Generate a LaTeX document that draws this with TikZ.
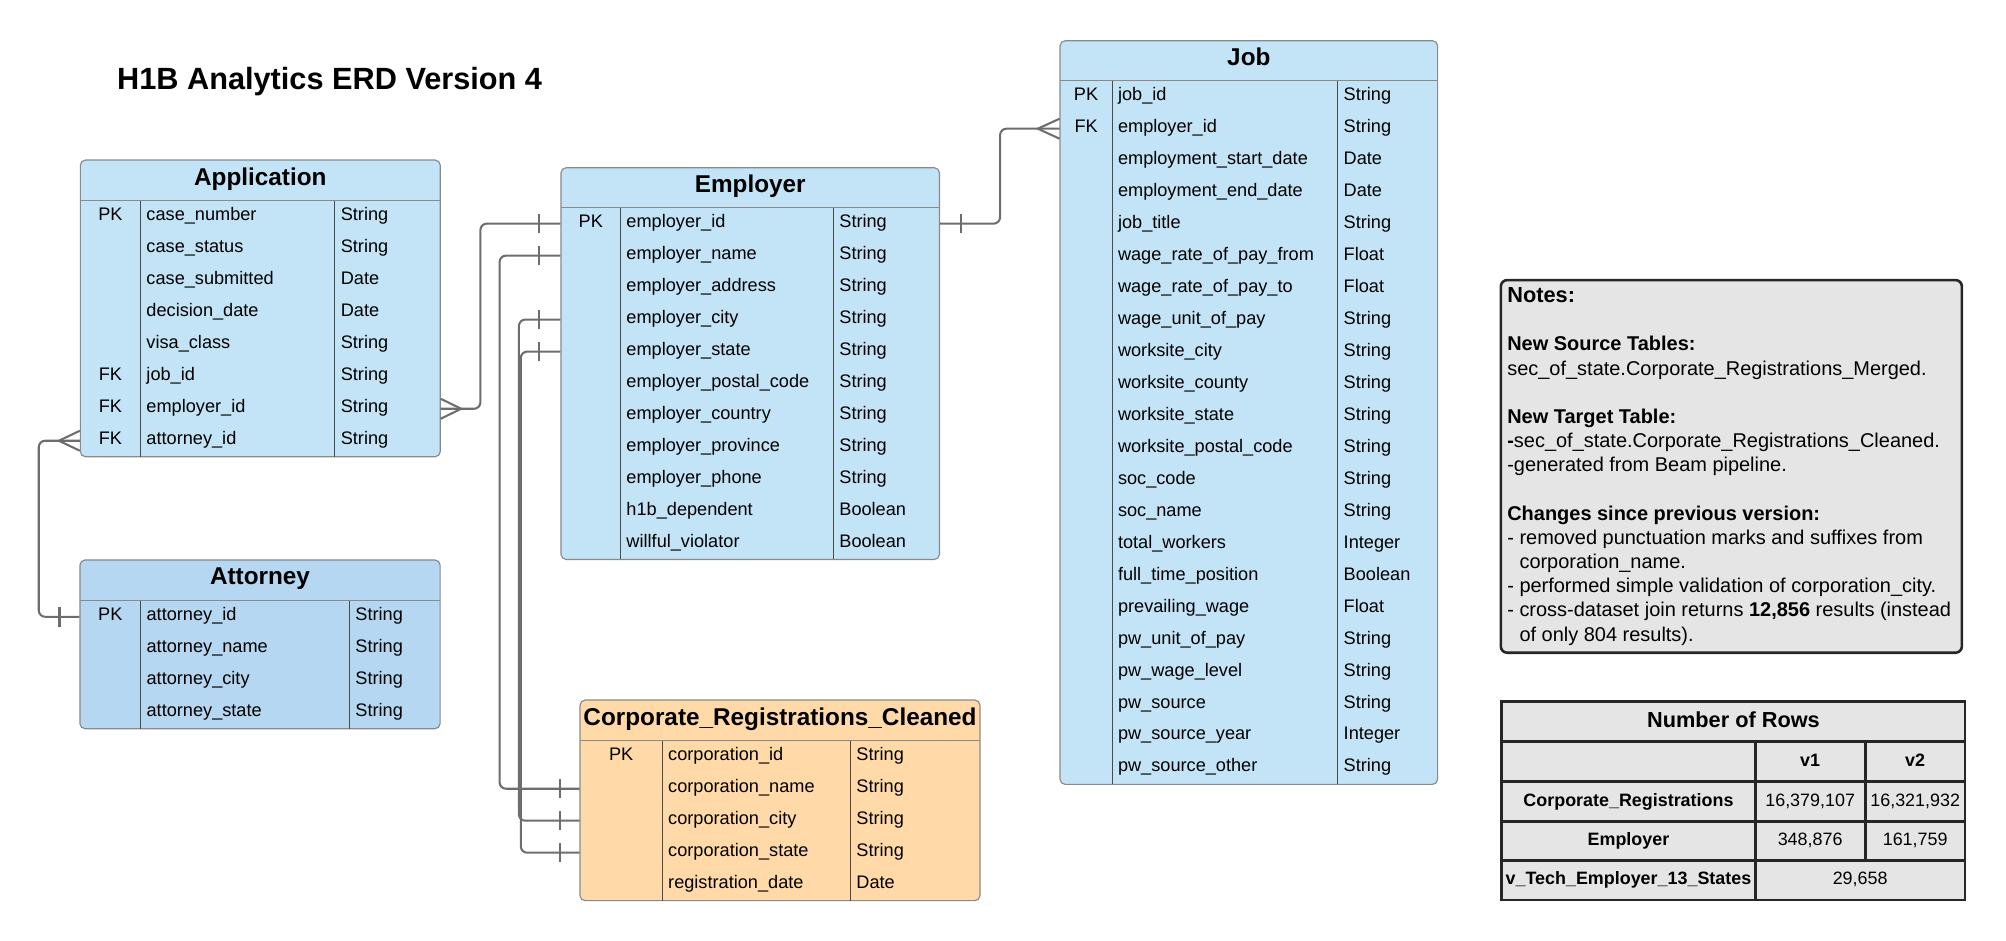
\documentclass[tikz,border=0pt]{standalone}
\usepackage{fontspec}
\setmainfont{Liberation Sans}
\usetikzlibrary{calc}
\definecolor{erdblue}{HTML}{C3E4F7}
\definecolor{erdattblue}{HTML}{B5D7F1}
\definecolor{erdorange}{HTML}{FFDAA8}
\definecolor{notegray}{HTML}{E5E5E5}
\definecolor{relgray}{HTML}{6D6D6D}
\definecolor{framegray}{HTML}{8A8A8A}
\definecolor{divgray}{HTML}{4A4A4A}
\tikzset{
  tablebox/.style={draw=framegray, line width=0.45pt, rounded corners=2pt},
  headline/.style={draw=framegray, line width=0.45pt},
  colline/.style={draw=divgray, line width=0.45pt},
  tabletitle/.style={anchor=base, inner sep=0pt, font=\fontsize{9.5}{11}\selectfont\bfseries},
  rowbox/.style={rectangle, inner sep=0pt, minimum height=12.5pt},
  keytext/.style={anchor=base, inner sep=0pt, font=\fontsize{7.1}{8.5}\selectfont},
  fieldtext/.style={anchor=base west, inner sep=0pt, font=\fontsize{7.1}{8.5}\selectfont},
  rel/.style={draw=relgray, line width=0.8pt, rounded corners=2.5pt},
  relend/.style={draw=relgray, line width=0.8pt},
  notebox/.style={draw=black!85, line width=1pt, fill=notegray, rounded corners=2.5pt},
  notetext/.style={anchor=north west, inner sep=0pt, align=left, font=\fontsize{7.8}{9.45}\selectfont},
  countgrid/.style={draw=black!85, line width=1.1pt},
  counttext/.style={anchor=base, inner sep=0pt, font=\fontsize{7}{8}\selectfont},
}
\def\erdtable(#1:#2:#3)#4{%
  \draw[tablebox, fill=#3] (\erdl,\erdtop) rectangle (\erdr,\erdh+#2*25);
  \draw[headline] (\erdl,\erdh) -- (\erdr,\erdh);
  \draw[colline] (\erdk,\erdh) -- (\erdk,\erdh+#2*25);
  \draw[colline] (\erdd,\erdh) -- (\erdd,\erdh+#2*25);
  \node[tabletitle] (#1) at ({(\erdl+\erdr)/2},\erdtop+19.5) {#4};
}
\def\erdrow(#1:#2)(#3:#4:#5){%
  \node[rowbox, minimum width={(\erdr-\erdl)*0.5pt}] (#1) at ({(\erdl+\erdr)/2},\erdh+25*#2-12.5) {};
  \node[keytext] (#1-key) at ({(\erdl+\erdk)/2},\erdh+25*#2-9.7) {#3};
  \node[fieldtext] (#1-name) at (\erdk+4.2,\erdh+25*#2-9.7) {#4};
  \node[fieldtext] (#1-type) at (\erdd+4.3,\erdh+25*#2-9.7) {#5};
}

\begin{document}
\begin{tikzpicture}[x=0.5pt,y=-0.5pt]
  \useasboundingbox (0,0) rectangle (1568,734.8);

  \node[anchor=base west, inner sep=0pt, font=\fontsize{12}{14}\selectfont\bfseries] (title) at (91.2,69.8) {H1B Analytics ERD Version 4};

  %%%%% Application %%%%%
  \def\erdl{62.8}\def\erdk{109.9}\def\erdd{261.7}\def\erdr{344.1}
  \def\erdtop{125.1}\def\erdh{157}
  \erdtable(application:8:erdblue){Application}
  \erdrow(app1:1)(PK:case\_number:String)
  \erdrow(app2:2)(:case\_status:String)
  \erdrow(app3:3)(:case\_submitted:Date)
  \erdrow(app4:4)(:decision\_date:Date)
  \erdrow(app5:5)(:visa\_class:String)
  \erdrow(app6:6)(FK:job\_id:String)
  \erdrow(app7:7)(FK:employer\_id:String)
  \erdrow(app8:8)(FK:attorney\_id:String)

  %%%%% Attorney %%%%%
  \def\erdl{62.5}\def\erdk{110}\def\erdd{273.1}\def\erdr{344}
  \def\erdtop{437.7}\def\erdh{469.6}
  \erdtable(attorney:4:erdattblue){Attorney}
  \erdrow(att1:1)(PK:attorney\_id:String)
  \erdrow(att2:2)(:attorney\_name:String)
  \erdrow(att3:3)(:attorney\_city:String)
  \erdrow(att4:4)(:attorney\_state:String)

  %%%%% Employer %%%%%
  \def\erdl{438.5}\def\erdk{485.1}\def\erdd{651.4}\def\erdr{734.3}
  \def\erdtop{131.1}\def\erdh{162.3}
  \erdtable(employer:11:erdblue){Employer}
  \erdrow(emp1:1)(PK:employer\_id:String)
  \erdrow(emp2:2)(:employer\_name:String)
  \erdrow(emp3:3)(:employer\_address:String)
  \erdrow(emp4:4)(:employer\_city:String)
  \erdrow(emp5:5)(:employer\_state:String)
  \erdrow(emp6:6)(:employer\_postal\_code:String)
  \erdrow(emp7:7)(:employer\_country:String)
  \erdrow(emp8:8)(:employer\_province:String)
  \erdrow(emp9:9)(:employer\_phone:String)
  \erdrow(emp10:10)(:h1b\_dependent:Boolean)
  \erdrow(emp11:11)(:willful\_violator:Boolean)

  %%%%% Corporate_Registrations_Cleaned %%%%%
  \def\erdl{453.4}\def\erdk{517.7}\def\erdd{664.7}\def\erdr{766}
  \def\erdtop{547.2}\def\erdh{579}
  \erdtable(corporate:5:erdorange){Corporate\_Registrations\_Cleaned}
  \erdrow(corp1:1)(PK:corporation\_id:String)
  \erdrow(corp2:2)(:corporation\_name:String)
  \erdrow(corp3:3)(:corporation\_city:String)
  \erdrow(corp4:4)(:corporation\_state:String)
  \erdrow(corp5:5)(:registration\_date:Date)

  %%%%% Job %%%%%
  \def\erdl{828.6}\def\erdk{869.3}\def\erdd{1045.6}\def\erdr{1123.7}
  \def\erdtop{31.8}\def\erdh{63.1}
  \erdtable(job:22:erdblue){Job}
  \erdrow(job1:1)(PK:job\_id:String)
  \erdrow(job2:2)(FK:employer\_id:String)
  \erdrow(job3:3)(:employment\_start\_date:Date)
  \erdrow(job4:4)(:employment\_end\_date:Date)
  \erdrow(job5:5)(:job\_title:String)
  \erdrow(job6:6)(:wage\_rate\_of\_pay\_from:Float)
  \erdrow(job7:7)(:wage\_rate\_of\_pay\_to:Float)
  \erdrow(job8:8)(:wage\_unit\_of\_pay:String)
  \erdrow(job9:9)(:worksite\_city:String)
  \erdrow(job10:10)(:worksite\_county:String)
  \erdrow(job11:11)(:worksite\_state:String)
  \erdrow(job12:12)(:worksite\_postal\_code:String)
  \erdrow(job13:13)(:soc\_code:String)
  \erdrow(job14:14)(:soc\_name:String)
  \erdrow(job15:15)(:total\_workers:Integer)
  \erdrow(job16:16)(:full\_time\_position:Boolean)
  \erdrow(job17:17)(:prevailing\_wage:Float)
  \erdrow(job18:18)(:pw\_unit\_of\_pay:String)
  \erdrow(job19:19)(:pw\_wage\_level:String)
  \erdrow(job20:20)(:pw\_source:String)
  \erdrow(job21:21)(:pw\_source\_year:Integer)
  \erdrow(job22:22)(:pw\_source\_other:String)

  %%%%% relations %%%%%
  \draw[rel] (app7.east) -- ++(31,0) |- (emp1.west);
  \draw[relend] ($(app7.east)+(0,-7.8)$) -- ++(16,7.8) -- ++(-16,7.8);
  \draw[relend] ($(emp1.west)+(-16.5,-7.6)$) -- ++(0,15.2);

  \draw[rel] (att1.west) -- ++(-31.8,0) |- (app8.west);
  \draw[relend] ($(att1.west)+(-15.6,-7.6)$) -- ++(0,15.2);
  \draw[relend] ($(app8.west)+(0,-7.8)$) -- ++(-16.4,7.8) -- ++(16.4,7.8);

  \draw[rel] (emp1.east) -- ++(47,0) |- (job2.west);
  \draw[relend] ($(emp1.east)+(16.7,-7.6)$) -- ++(0,15.2);
  \draw[relend] ($(job2.west)+(0,-7.8)$) -- ++(-17,7.8) -- ++(17,7.8);

  \draw[rel] (emp2.west) -- ++(-47.6,0) |- (corp2.west);
  \draw[rel] (emp4.west) -- ++(-32.5,0) |- (corp3.west);
  \draw[rel] (emp5.west) -- ++(-31,0) |- (corp4.west);
  \draw[relend] ($(emp2.west)+(-16.5,-7.6)$) -- ++(0,15.2);
  \draw[relend] ($(emp4.west)+(-16.5,-7.6)$) -- ++(0,15.2);
  \draw[relend] ($(emp5.west)+(-16.5,-7.6)$) -- ++(0,15.2);
  \draw[relend] ($(corp2.west)+(-15.6,-7.6)$) -- ++(0,15.2);
  \draw[relend] ($(corp3.west)+(-15.6,-7.6)$) -- ++(0,15.2);
  \draw[relend] ($(corp4.west)+(-15.6,-7.6)$) -- ++(0,15.2);

  %%%%% notes %%%%%
  \draw[notebox] (1173.1,218.9) rectangle (1533.5,510.2);
  \node[notetext] (notes) at (1177.8,224.4) {{\fontsize{8.5}{9.45}\selectfont\bfseries Notes:}\\[9.45pt]
    \textbf{New Source Tables:}\\
    sec\_of\_state.Corporate\_Registrations\_Merged.\\[9.45pt]
    \textbf{New Target Table:}\\
    \textbf{-}sec\_of\_state.Corporate\_Registrations\_Cleaned.\\
    -generated from Beam pipeline.\\[9.45pt]
    \textbf{Changes since previous version:}\\
    - removed punctuation marks and suffixes from\\
    \phantom{- }corporation\_name.\\
    - performed simple validation of corporation\_city.\\
    - cross-dataset join returns \textbf{12,856} results (instead\\
    \phantom{- }of only 804 results).};

  %%%%% number of rows %%%%%
  \fill[notegray] (1173.9,548.5) rectangle (1536,703.5);
  \draw[countgrid] (1173.9,548.5) rectangle (1536,703.5);
  \draw[countgrid] (1173.9,579.8) -- (1536,579.8);
  \draw[countgrid] (1173.9,611) -- (1536,611);
  \draw[countgrid] (1173.9,642.3) -- (1536,642.3);
  \draw[countgrid] (1173.9,672.8) -- (1536,672.8);
  \draw[countgrid] (1371.9,579.8) -- (1371.9,703.5);
  \draw[countgrid] (1457.9,579.8) -- (1457.9,672.8);
  \node[counttext, font=\fontsize{8.5}{10}\selectfont\bfseries] (cnt-title) at (1354.95,568.6) {Number of Rows};
  \node[counttext, font=\fontsize{7}{8}\selectfont\bfseries] (cnt-v1) at (1414.9,598.9) {v1};
  \node[counttext, font=\fontsize{7}{8}\selectfont\bfseries] (cnt-v2) at (1497,598.9) {v2};
  \node[counttext, font=\fontsize{7}{8}\selectfont\bfseries] (cnt-corp) at (1272.9,630.2) {Corporate\_Registrations};
  \node[counttext] (cnt-corp1) at (1414.9,630.2) {16,379,107};
  \node[counttext] (cnt-corp2) at (1497,630.2) {16,321,932};
  \node[counttext, font=\fontsize{7}{8}\selectfont\bfseries] (cnt-emp) at (1272.9,661.1) {Employer};
  \node[counttext] (cnt-emp1) at (1414.9,661.1) {348,876};
  \node[counttext] (cnt-emp2) at (1497,661.1) {161,759};
  \node[counttext, font=\fontsize{7}{8}\selectfont\bfseries] (cnt-tech) at (1272.9,691.7) {v\_Tech\_Employer\_13\_States};
  \node[counttext] (cnt-tech12) at (1454,691.7) {29,658};
\end{tikzpicture}
\end{document}
